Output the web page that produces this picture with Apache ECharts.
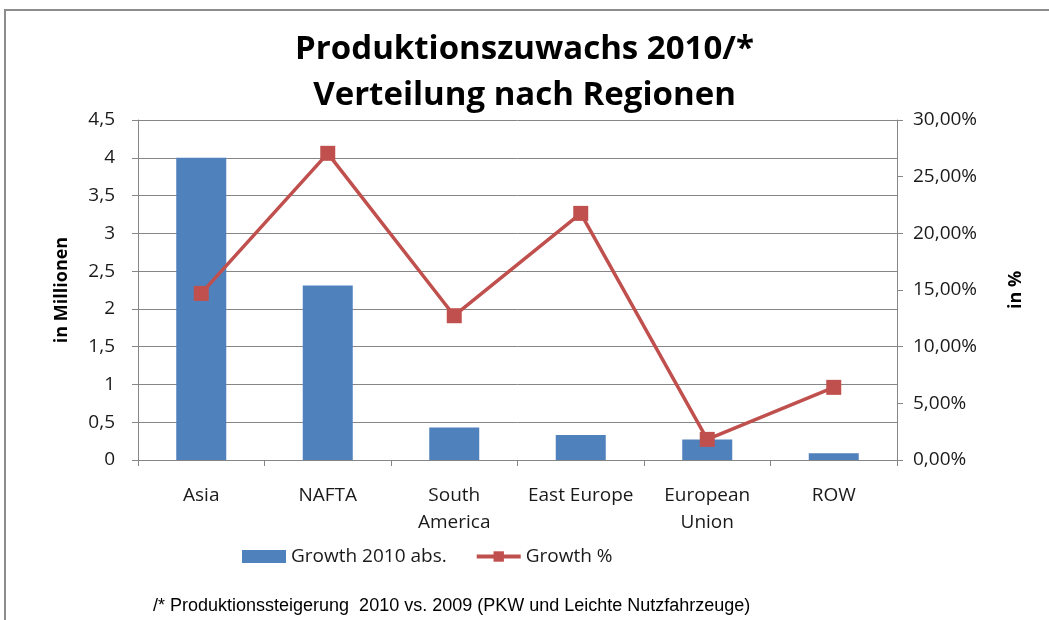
<!doctype html>
<html>
    <head>
        <meta charset="utf-8">
        <title>Produktionszuwachs 2010</title>
        <style>
            html, body { margin: 0; padding: 0; background: #fff; }
            #frame { position: absolute; left: 4px; top: 9px; width: 1100px; height: 700px; border: 2px solid #8c8c8c; }
            #main { position: absolute; left: 0; top: 0; width: 1049px; height: 620px; }
        </style>
    </head>
    <body>
        <div id="frame"></div>
        <div id="main"></div>
        <script src="https://cdn.jsdelivr.net/npm/echarts@6/dist/echarts.min.js"></script>
        <script>

            var regions = ['Asia', 'NAFTA', 'South\nAmerica', 'East Europe', 'European\nUnion', 'ROW'];
            var growthAbs = [4.0, 2.31, 0.43, 0.33, 0.27, 0.09];      // in Millionen
            var growthPct = [14.7, 27.06, 12.73, 21.76, 1.82, 6.41];  // in %

            var font = '"Open Sans", "Noto Sans", sans-serif';
            var grey = '#868686';
            var txt = '#1a1a1a';

            var myChart = echarts.init(document.getElementById('main'));

            myChart.setOption({
                animation: false,
                title: [{
                    text: 'Produktionszuwachs 2010/*\nVerteilung nach Regionen',
                    left: 'center',
                    top: 22,
                    textStyle: {
                        fontFamily: font,
                        fontWeight: 'bold',
                        fontSize: 33,
                        lineHeight: 46,
                        color: '#000'
                    }
                }, {
                    text: '/* Produktionssteigerung  2010 vs. 2009 (PKW und Leichte Nutzfahrzeuge)',
                    left: 148,
                    top: 592,
                    textStyle: {
                        fontFamily: '"Liberation Sans", Arial, sans-serif',
                        fontWeight: 'normal',
                        fontSize: 18,
                        color: '#000'
                    }
                }],
                legend: {
                    left: 237,
                    top: 542,
                    itemGap: 28,
                    itemWidth: 44,
                    itemHeight: 13,
                    textStyle: { fontFamily: font, fontSize: 19, color: txt },
                    data: [
                        { name: 'Growth 2010 abs.', icon: 'rect' },
                        { name: 'Growth %', lineStyle: { width: 4 } }
                    ]
                },
                grid: {
                    left: 138,
                    right: 152,
                    top: 120,
                    bottom: 160
                },
                xAxis: {
                    type: 'category',
                    data: regions,
                    axisLine: { lineStyle: { color: grey, width: 1 } },
                    axisTick: { show: true, length: 6, lineStyle: { color: grey } },
                    axisLabel: {
                        interval: 0,
                        fontFamily: font,
                        fontSize: 19,
                        lineHeight: 27,
                        color: txt,
                        margin: 22
                    }
                },
                yAxis: [{
                    type: 'value',
                    min: 0,
                    max: 4.5,
                    interval: 0.5,
                    name: 'in Millionen',
                    nameLocation: 'middle',
                    nameRotate: 90,
                    nameGap: 67,
                    nameTextStyle: { fontFamily: font, fontWeight: 'bold', fontSize: 18, color: '#000' },
                    axisLine: { show: true, lineStyle: { color: grey } },
                    axisTick: { show: true, length: 6, lineStyle: { color: grey } },
                    splitLine: { lineStyle: { color: grey, width: 1 } },
                    axisLabel: {
                        fontFamily: font,
                        fontSize: 19,
                        color: txt,
                        margin: 23,
                        formatter: function (v) { return String(v).replace('.', ','); }
                    }
                }, {
                    type: 'value',
                    min: 0,
                    max: 30,
                    interval: 5,
                    position: 'right',
                    name: 'in %',
                    nameLocation: 'middle',
                    nameRotate: 90,
                    nameGap: 110,
                    nameTextStyle: { fontFamily: font, fontWeight: 'bold', fontSize: 18, color: '#000' },
                    axisLine: { show: true, lineStyle: { color: grey } },
                    axisTick: { show: true, length: 6, lineStyle: { color: grey } },
                    splitLine: { show: false },
                    axisLabel: {
                        fontFamily: font,
                        fontSize: 19,
                        color: txt,
                        margin: 16,
                        formatter: function (v) { return v.toFixed(2).replace('.', ',') + '%'; }
                    }
                }],
                series: [{
                    type: 'bar',
                    name: 'Growth 2010 abs.',
                    yAxisIndex: 0,
                    barWidth: 50,
                    itemStyle: { color: '#4F81BD' },
                    data: growthAbs
                }, {
                    type: 'line',
                    name: 'Growth %',
                    yAxisIndex: 1,
                    symbol: 'rect',
                    symbolSize: 15,
                    lineStyle: { color: '#C0504D', width: 3.5 },
                    itemStyle: { color: '#C0504D' },
                    data: growthPct
                }]
            });

        </script>
    </body>
</html>
